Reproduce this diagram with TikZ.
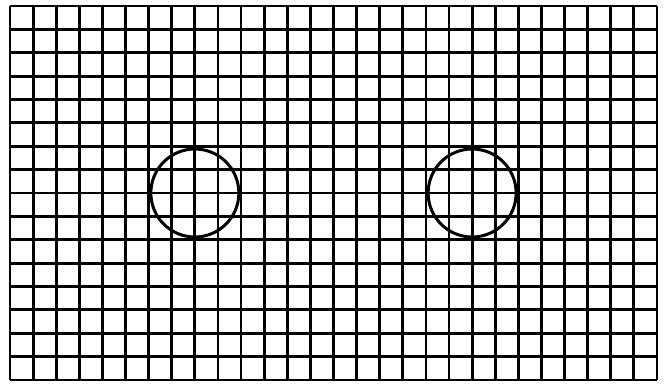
\documentclass[tikz,border=0pt]{standalone}
\begin{document}
\begin{tikzpicture}[x=1pt,y=-1pt,
  gridline/.style={line width=2.8pt,black},
  ring/.style={line width=3pt,black}]
\useasboundingbox (0,0) rectangle (664,384);
\def\gx{10}\def\gy{6}\def\cw{23.107}\def\ch{23.375}
\foreach \i in {0,...,28} {
  \draw[gridline] ({\gx+\i*\cw},\gy) -- ({\gx+\i*\cw},{\gy+16*\ch});
}
\foreach \j in {0,...,16} {
  \draw[gridline] (\gx,{\gy+\j*\ch}) -- ({\gx+28*\cw},{\gy+\j*\ch});
}
\coordinate (c1) at ({\gx+8*\cw},{\gy+8*\ch});
\coordinate (c2) at ({\gx+20*\cw},{\gy+8*\ch});
\draw[ring] (c1) circle (44);
\draw[ring] (c2) circle (44);
\end{tikzpicture}
\end{document}
